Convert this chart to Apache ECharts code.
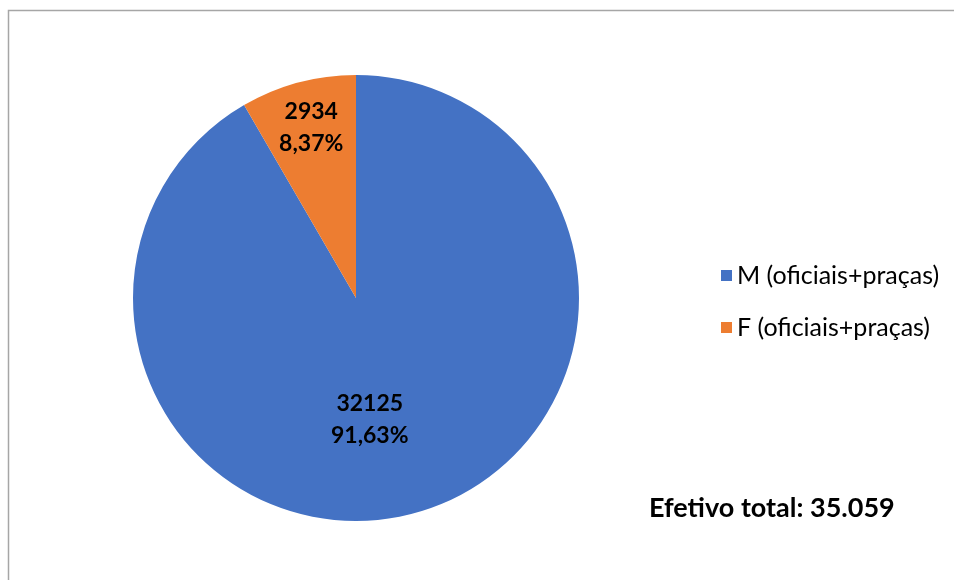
<!DOCTYPE html>
<html><head><meta charset="utf-8">
<script src="https://cdn.jsdelivr.net/npm/echarts@6/dist/echarts.min.js"></script>
<style>html,body{margin:0;padding:0;background:#fff}#c{width:954px;height:580px}</style>
</head><body><div id="c"></div>
<script>
const categories = ['M (oficiais+praças)', 'F (oficiais+praças)'];
const values = [32125, 2934];
const percents = ['91,63%', '8,37%'];
const totalText = 'Efetivo total: 35.059';
const colors = ['#4472C4', '#ED7D31'];

const chart = echarts.init(document.getElementById('c'));
const font = 'Lato, "Open Sans", sans-serif';
const labelFmt = [
  (i) => '{s1|}\n{a|' + values[i] + '}\n{a|' + percents[i] + '}',
  (i) => '{a|' + values[i] + '}\n{a|' + percents[i] + '}\n{s2|}'
];
chart.setOption({
  animation: false,
  graphic: [{
    type: 'rect', shape: {x: 8.5, y: 10.5, width: 960, height: 600},
    style: {fill: 'none', stroke: '#a6a6a6', lineWidth: 1.5}, z: -1
  }],
  title: {
    text: totalText, left: 644, top: 490,
    textStyle: {fontFamily: font, fontWeight: 'bold', fontSize: 27, color: '#000'}
  },
  legend: {
    orient: 'vertical', left: 716, top: 258, itemWidth: 11, itemHeight: 11,
    itemGap: 27, icon: 'rect',
    textStyle: {fontFamily: font, fontSize: 25, color: '#000'},
    data: categories
  },
  series: [{
    type: 'pie', center: [356, 298], radius: 223, startAngle: 90, clockwise: true,
    label: {
      show: true, position: 'inside', fontFamily: font, fontWeight: 'bold',
      fontSize: 23, color: '#000', lineHeight: 32,
      rich: {
        a: {fontFamily: font, fontWeight: 'bold', fontSize: 23, color: '#000', lineHeight: 32, align: 'center'},
        s1: {lineHeight: 22, fontSize: 1},
        s2: {lineHeight: 120, fontSize: 1}
      }
    },
    labelLine: {show: false},
    itemStyle: {borderWidth: 0},
    data: categories.map((n, i) => ({
      name: n, value: values[i], itemStyle: {color: colors[i]},
      label: {formatter: labelFmt[i](i), padding: i === 1 ? [0, 30, 0, 0] : [0, 32, 0, 0]}
    }))
  }]
});
</script></body></html>
